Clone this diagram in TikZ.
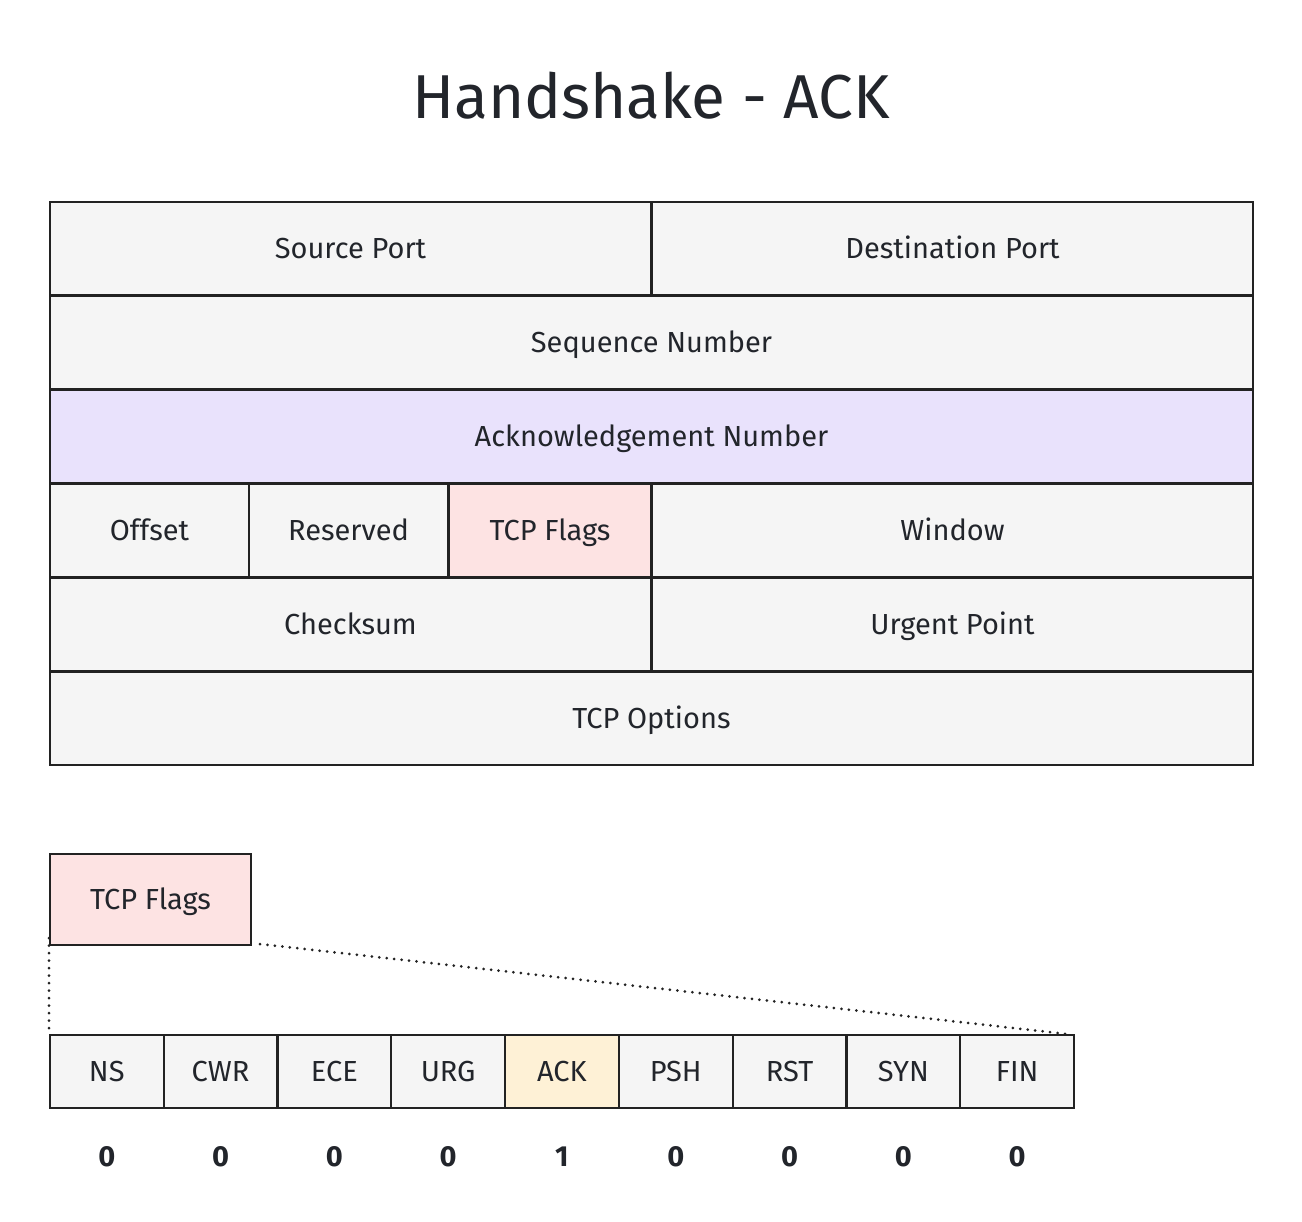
\documentclass[tikz,border=0pt]{standalone}
\usepackage{fontspec}
\setmainfont{Fira Sans}
\definecolor{linec}{HTML}{222222}
\definecolor{txt}{HTML}{22252B}
\definecolor{cellfill}{HTML}{F5F5F5}
\definecolor{ackfill}{HTML}{E9E2FC}
\definecolor{flagfill}{HTML}{FDE3E3}
\definecolor{yelfill}{HTML}{FEF1D6}
\tikzset{
  cell/.style={draw=linec, fill=cellfill, line width=2pt, inner sep=0pt, anchor=north west,
    minimum height=93pt, text=txt, font=\fontsize{29}{33}\selectfont,
    text height=20pt, text depth=0pt},
  bit/.style={cell, minimum width=113.5pt, minimum height=73pt},
  val/.style={text=txt, font=\fontsize{29}{33}\selectfont\bfseries, inner sep=0pt,
    text height=20pt, text depth=0pt},
  zoomline/.style={draw=linec, line width=3pt, line cap=round, dash pattern=on 0pt off 7.5pt}
}
\begin{document}
\begin{tikzpicture}[x=1pt,y=-1pt]
\useasboundingbox[fill=white] (0,0) rectangle (1302,1222);
\node[text=txt, font=\fontsize{62}{70}\selectfont] (title) at (651,96) {Handshake - ACK};
% header rows
\node[cell, minimum width=601pt] (src) at (49,201) {Source Port};
\node[cell, minimum width=601pt] (dst) at (651,201) {Destination Port};
\node[cell, minimum width=1203pt] (seq) at (49,295) {Sequence Number};
\node[cell, minimum width=1203pt, fill=ackfill] (ack) at (49,389) {Acknowledgement Number};
\node[cell, minimum width=199pt] (off) at (49,483) {Offset};
\node[cell, minimum width=199pt] (res) at (248,483) {Reserved};
\node[cell, minimum width=202pt, fill=flagfill] (flg) at (448,483) {TCP Flags};
\node[cell, minimum width=601pt] (win) at (651,483) {Window};
\node[cell, minimum width=601pt] (chk) at (49,577) {Checksum};
\node[cell, minimum width=601pt] (urg) at (651,577) {Urgent Point};
\node[cell, minimum width=1203pt] (opt) at (49,671) {TCP Options};
% zoom
\node[cell, minimum width=201pt, minimum height=91pt, fill=flagfill] (big) at (49,853) {TCP Flags};
\node[bit] (b1) at (49,1034) {NS};
\node[bit] (b2) at (162.8,1034) {CWR};
\node[bit] (b3) at (276.6,1034) {ECE};
\node[bit] (b4) at (390.4,1034) {URG};
\node[bit, fill=yelfill] (b5) at (504.2,1034) {ACK};
\node[bit] (b6) at (618,1034) {PSH};
\node[bit] (b7) at (731.8,1034) {RST};
\node[bit] (b8) at (845.6,1034) {SYN};
\node[bit] (b9) at (959.4,1034) {FIN};
\foreach \i/\v in {1/0,2/0,3/0,4/0,5/1,6/0,7/0,8/0,9/0}{
  \node[val] (v\i) at ([yshift=-47pt]b\i.south) {\v};
}
\draw[zoomline] ([yshift=8pt]big.south west) -- (b1.north west);
\draw[zoomline] ([xshift=8pt,yshift=2pt]big.south east) -- ([xshift=-8pt]b9.north east);
\end{tikzpicture}
\end{document}
